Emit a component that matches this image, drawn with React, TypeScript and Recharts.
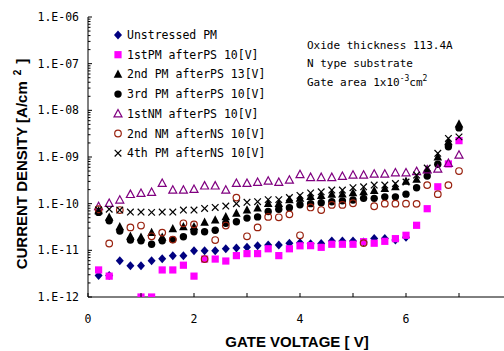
import React from "react";
import { Scatter, ScatterChart, XAxis, YAxis } from "recharts";

// gate voltage steps [V]
const voltages = [
    0.2, 0.4, 0.6, 0.8, 1.0, 1.2, 1.4, 1.6, 1.8, 2.0, 2.2, 2.4, 2.6, 2.8, 3.0, 3.2, 3.4, 3.6,
    3.8, 4.0, 4.2, 4.4, 4.6, 4.8, 5.0, 5.2, 5.4, 5.6, 5.8, 6.0, 6.2, 6.4, 6.6, 6.8, 7.0,
];

// current density [A/cm2], one value per voltage step (null = not shown)
const unstressedPM = [
    2.9e-12, 2.9e-12, 6.0e-12, 4.7e-12, 4.7e-12, 6.0e-12, 6.6e-12, 7.7e-12, 7.7e-12, 9.8e-12,
    9.8e-12, 9.8e-12, 1.08e-11, 1.12e-11, 1.16e-11, 1.26e-11, 1.3e-11, 1.3e-11, 1.41e-11, 1.46e-11,
    1.38e-11, 1.4e-11, 1.58e-11, 1.58e-11, 1.58e-11, 1.5e-11, 1.8e-11, 1.8e-11, 1.66e-11, 1.9e-11,
    null, null, null, null, null,
];
const pm1AfterPS10 = [
    3.8e-12, 2.8e-12, null, null, 1.0e-12, 1.0e-12, 3.8e-12, 3.8e-12, 4.8e-12, 2.8e-12,
    6.5e-12, 6.5e-12, 5.9e-12, 7.7e-12, 8.5e-12, 8.5e-12, 1.08e-11, 7.7e-12, 1.08e-11, 1.25e-11,
    1.26e-11, 1.16e-11, 1.35e-11, 1.35e-11, 1.35e-11, 1.53e-11, 1.42e-11, 1.56e-11, 1.78e-11, 2.1e-11,
    3.44e-11, 7.8e-11, 2.3e-10, 7.1e-10, 2.24e-9,
];
const pm2AfterPS13 = [
    7.0e-11, 5.1e-11, 3.2e-11, 2.0e-11, 1.9e-11, 2.4e-11, 1.9e-11, 2.9e-11, 3.2e-11, 3.2e-11,
    4.0e-11, 4.45e-11, 5.2e-11, 6.2e-11, 7.3e-11, 8.0e-11, 1.0e-10, 1.0e-10, 1.2e-10, 1.3e-10,
    1.41e-10, 1.48e-10, 1.58e-10, 1.6e-10, 1.7e-10, 1.8e-10, 1.9e-10, 2.1e-10, 2.3e-10, 3.0e-10,
    3.3e-10, 5.3e-10, 1.0e-9, 2.1e-9, 5.1e-9,
];
const pm3AfterPS10 = [
    6.5e-11, 4.3e-11, 2.6e-11, 1.66e-11, 1.6e-11, 1.35e-11, 1.6e-11, 1.7e-11, 1.96e-11, 2.5e-11,
    2.5e-11, 2.7e-11, 3.8e-11, 4.1e-11, 4.9e-11, 5.2e-11, 6.8e-11, 7.6e-11, 8.2e-11, 9.5e-11,
    1.0e-10, 1.05e-10, 1.1e-10, 1.15e-10, 1.2e-10, 1.3e-10, 1.3e-10, 1.4e-10, 1.4e-10, 1.6e-10,
    2.2e-10, 3.9e-10, 7.0e-10, 1.65e-9, 4.2e-9,
];
const nm1AfterPS10 = [
    8.7e-11, 1.02e-10, 1.2e-10, 1.58e-10, 1.67e-10, 1.75e-10, 2.73e-10, 1.96e-10, 1.96e-10, 2.03e-10,
    2.4e-10, 2.4e-10, 1.96e-10, 2.73e-10, 2.73e-10, 2.87e-10, 3.06e-10, 2.87e-10, 3.2e-10, 4.2e-10,
    3.65e-10, 3.65e-10, 3.65e-10, 3.85e-10, 4.1e-10, 4.1e-10, 4.3e-10, 4.3e-10, 4.6e-10, 4.6e-10,
    4.9e-10, 5.3e-10, 5.5e-10, 7.3e-10, 1.1e-9,
];
const nm2AfterNS10 = [
    7.6e-11, 1.4e-11, 7.3e-11, 3.1e-11, 3.4e-11, 2.0e-11, 2.4e-11, 1.7e-11, 3.8e-11, 3.6e-11,
    6.5e-12, 1.66e-11, 3.4e-11, 1.35e-10, 2.0e-11, 3.1e-11, 5.2e-11, 5.1e-11, 5.9e-11, 2.1e-11,
    8.3e-11, 7.3e-11, 9.4e-11, 9.4e-11, 1.02e-10, 1.43e-11, 8.8e-11, 1.0e-10, 1.0e-10, 1.0e-10,
    9.9e-11, 2.5e-10, 1.6e-10, 2.5e-10, 5.0e-10,
];
const pm4AfterNS10 = [
    7.3e-11, 7.6e-11, 7.3e-11, 6.6e-11, 6.6e-11, 6.5e-11, 6.6e-11, 6.6e-11, 7.3e-11, 7.3e-11,
    7.9e-11, 8.3e-11, 8.9e-11, 1.0e-10, 1.07e-10, 1.1e-10, 1.22e-10, 1.22e-10, 1.35e-10, 1.5e-10,
    1.7e-10, 1.8e-10, 1.96e-10, 1.96e-10, 2.2e-10, 2.3e-10, 2.5e-10, 2.5e-10, 2.7e-10, 2.9e-10,
    4.1e-10, 5.8e-10, 1.2e-9, 2.5e-9, 2.7e-9,
];

const seriesNames = [
    "Unstressed PM",
    "1stPM afterPS 10[V]",
    "2nd PM afterPS 13[V]",
    "3rd PM afterPS 10[V]",
    "1stNM afterPS 10[V]",
    "2nd NM afterNS 10[V]",
    "4th PM afterNS 10[V]",
];
const seriesValues = [unstressedPM, pm1AfterPS10, pm2AfterPS13, pm3AfterPS10, nm1AfterPS10, nm2AfterNS10, pm4AfterNS10];
const markerKinds = ["diamond", "square", "triangle", "dot", "openTriangle", "openCircle", "x"];

const yMajor = [1e-12, 1e-11, 1e-10, 1e-9, 1e-8, 1e-7, 1e-6];
const xTicks = [0, 1, 2, 3, 4, 5, 6, 7, 8];
const xLabels = [0, 2, 4, 6];

const yTicks: number[] = [];
for (let e = -12; e < -6; e++) {
    for (let m = 1; m <= 9; m++) yTicks.push(Number(`${m}e${e}`));
}
yTicks.push(1e-6);

const MONO = "'DejaVu Sans Mono', monospace";
const SANS = "'Liberation Sans', Arial, sans-serif";

function Marker({ cx, cy, kind }: { cx: number; cy: number; kind: string }) {
    switch (kind) {
        case "diamond":
            return <polygon points={`${cx},${cy - 4.5} ${cx + 4},${cy} ${cx},${cy + 4.5} ${cx - 4},${cy}`} fill="#000080" />;
        case "square":
            return <rect x={cx - 3.6} y={cy - 3.6} width={7.2} height={7.2} fill="#FF00FF" />;
        case "triangle":
            return <polygon points={`${cx},${cy - 4.8} ${cx + 4.3},${cy + 3.4} ${cx - 4.3},${cy + 3.4}`} fill="#000" />;
        case "dot":
            return <circle cx={cx} cy={cy} r={3.7} fill="#000" />;
        case "openTriangle":
            return (
                <polygon
                    points={`${cx},${cy - 4.3} ${cx + 4},${cy + 3.1} ${cx - 4},${cy + 3.1}`}
                    fill="none"
                    stroke="#800080"
                    strokeWidth={1.2}
                />
            );
        case "openCircle":
            return <circle cx={cx} cy={cy} r={3.3} fill="none" stroke="#99220f" strokeWidth={1.2} />;
        default:
            return (
                <g stroke="#000" strokeWidth={1.2}>
                    <line x1={cx - 3.3} y1={cy - 3.3} x2={cx + 3.3} y2={cy + 3.3} />
                    <line x1={cx - 3.3} y1={cy + 3.3} x2={cx + 3.3} y2={cy - 3.3} />
                </g>
            );
    }
}

function YTick({ x, y, payload }: any) {
    const v = payload.value as number;
    const major = yMajor.some((m) => Math.abs(m - v) / m < 1e-6);
    const exp = Math.round(-Math.log10(v));
    return (
        <g>
            <line x1={x} x2={x + (major ? 4 : 2.5)} y1={y} y2={y} stroke="#000" />
            {major && (
                <text x={x - 9} y={y + 4} textAnchor="end" fontFamily={MONO} fontSize={11.5} fill="#000">
                    {`1.E-${String(exp).padStart(2, "0")}`}
                </text>
            )}
        </g>
    );
}

function XTick({ x, y, payload }: any) {
    const v = payload.value as number;
    return (
        <g>
            <line x1={x} x2={x} y1={y} y2={y - 4} stroke="#000" />
            {xLabels.includes(v) && (
                <text x={x} y={y + 26} textAnchor="middle" fontFamily={MONO} fontSize={11.5} fill="#000">
                    {v}
                </text>
            )}
        </g>
    );
}

export default function App() {
    const legendTop = 35;
    const legendStep = 19.7;
    return (
        <div style={{ position: "absolute", left: 0, top: 0, width: 504, height: 351, overflow: "hidden", background: "#fff" }}>
            <ScatterChart width={520} height={351} margin={{ top: 17, right: 8, bottom: 0, left: 0 }}>
                <XAxis
                    type="number"
                    dataKey="v"
                    domain={[0, 8]}
                    ticks={xTicks}
                    interval={0}
                    height={54}
                    tickSize={0}
                    tickMargin={0}
                    tickLine={false}
                    axisLine={{ stroke: "#000" }}
                    tick={<XTick />}
                />
                <YAxis
                    type="number"
                    dataKey="j"
                    scale="log"
                    domain={[1e-12, 1e-6]}
                    allowDataOverflow
                    ticks={yTicks}
                    interval={0}
                    width={88}
                    tickSize={0}
                    tickMargin={0}
                    tickLine={false}
                    axisLine={{ stroke: "#000" }}
                    tick={<YTick />}
                />
                {seriesValues.map((vals, i) => (
                    <Scatter
                        key={seriesNames[i]}
                        name={seriesNames[i]}
                        data={voltages
                            .map((v, k) => ({ v, j: vals[k] }))
                            .filter((d) => d.j !== null)}
                        isAnimationActive={false}
                        shape={(p: any) => <Marker cx={p.cx} cy={p.cy} kind={markerKinds[i]} />}
                    />
                ))}
            </ScatterChart>
            <svg width={504} height={351} style={{ position: "absolute", left: 0, top: 0, pointerEvents: "none" }}>
                {seriesNames.map((name, i) => (
                    <g key={name}>
                        <Marker cx={118} cy={legendTop + i * legendStep} kind={markerKinds[i]} />
                        <text x={127} y={legendTop + i * legendStep + 4} fontFamily={MONO} fontSize={11.5} fill="#000">
                            {name}
                        </text>
                    </g>
                ))}
                <g fontFamily={MONO} fontSize={11} fill="#000">
                    <text x={307} y={49}>Oxide thickness 113.4A</text>
                    <text x={307} y={67}>N type substrate</text>
                    <text x={307} y={86}>
                        Gate area 1x10
                        <tspan dy={-5} fontSize={8}>-3</tspan>
                        <tspan dy={5}>cm</tspan>
                        <tspan dy={-5} fontSize={8}>2</tspan>
                    </text>
                </g>
                <text
                    transform="translate(27,164) rotate(-90)"
                    textAnchor="middle"
                    fontFamily={SANS}
                    fontWeight="bold"
                    fontSize={15}
                    fill="#000"
                >
                    CURRENT DENSITY [A/cm
                    <tspan dx={6} dy={-6} fontSize={10}>2</tspan>
                    <tspan dx={6} dy={6}>]</tspan>
                </text>
                <text x={297} y={347} textAnchor="middle" fontFamily={SANS} fontWeight="bold" fontSize={15} fill="#000">
                    GATE VOLTAGE [ V]
                </text>
            </svg>
        </div>
    );
}
